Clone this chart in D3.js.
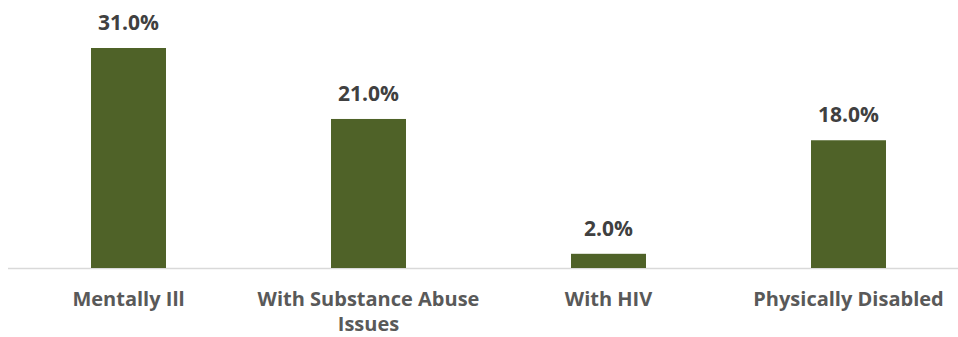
<!DOCTYPE html>
<html><head><meta charset="utf-8">
<script src="https://cdn.jsdelivr.net/npm/d3@7"></script>
<style>body{margin:0;background:#fff}</style>
</head><body>
<svg id="c" width="958" height="337"></svg>
<script>
const categories = ["Mentally Ill", "With Substance Abuse Issues", "With HIV", "Physically Disabled"];
const values = [31.0, 21.0, 2.0, 18.0];

const svg = d3.select("#c");
const baseY = 268;
const x = d3.scaleBand().domain(categories).range([8.5, 968.5]).paddingInner(0.6875).paddingOuter(0.34375);
const y = d3.scaleLinear().domain([0, 31]).range([baseY, 48]);

svg.append("line").attr("x1", 8).attr("x2", 958).attr("y1", baseY + 0.5).attr("y2", baseY + 0.5)
  .attr("stroke", "#d9d9d9").attr("stroke-width", 1.5);

svg.selectAll("rect.bar").data(values).join("rect").attr("class", "bar")
  .attr("x", (d, i) => x(categories[i]))
  .attr("width", x.bandwidth())
  .attr("y", d => y(d))
  .attr("height", d => baseY - y(d))
  .attr("fill", "#4F6228");

const font = "'Open Sans', sans-serif";
svg.selectAll("text.val").data(values).join("text").attr("class", "val")
  .attr("x", (d, i) => x(categories[i]) + x.bandwidth() / 2)
  .attr("y", d => y(d) - 18)
  .attr("text-anchor", "middle")
  .attr("font-family", font).attr("font-weight", 700).attr("font-size", 21)
  .attr("fill", "#404040")
  .text(d => d.toFixed(1) + "%");

const lines = {"With Substance Abuse Issues": ["With Substance Abuse", "Issues"]};
categories.forEach(c => {
  const t = svg.append("text")
    .attr("x", x(c) + x.bandwidth() / 2)
    .attr("y", 306)
    .attr("text-anchor", "middle")
    .attr("font-family", font).attr("font-weight", 700).attr("font-size", 20)
    .attr("fill", "#595959");
  (lines[c] || [c]).forEach((l, i) => {
    t.append("tspan").attr("x", x(c) + x.bandwidth() / 2).attr("dy", i ? 25 : 0).text(l);
  });
});
</script>
</body></html>
